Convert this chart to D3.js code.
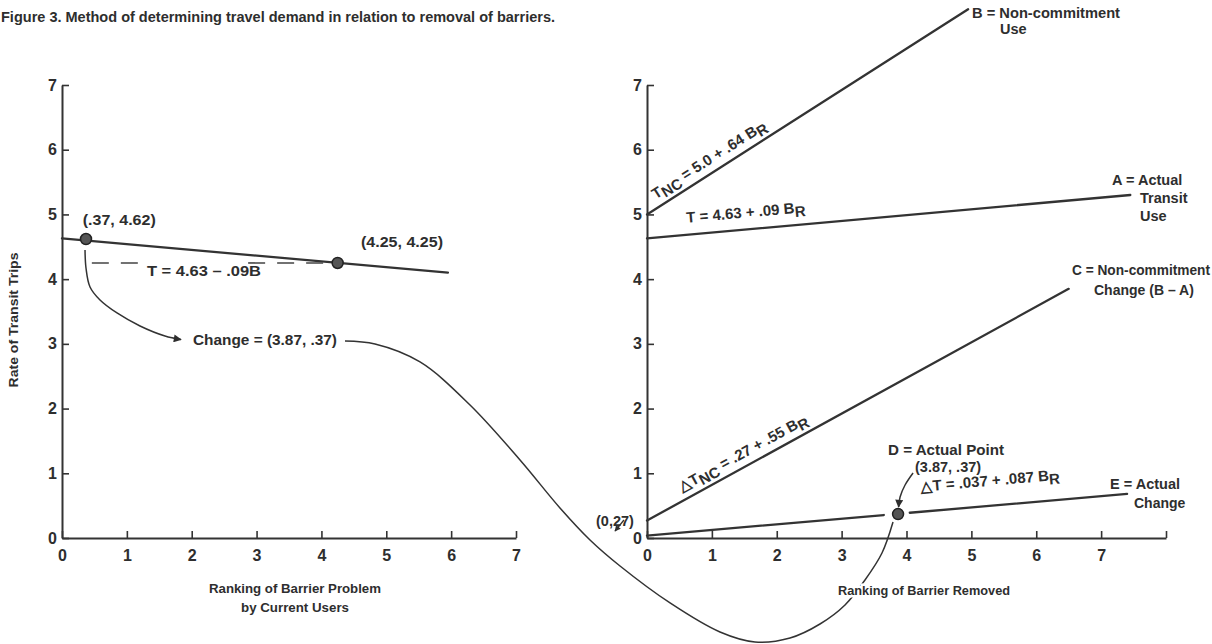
<!DOCTYPE html>
<html><head><meta charset="utf-8">
<script src="https://cdn.jsdelivr.net/npm/d3@7"></script>
<style>
html,body{margin:0;padding:0;background:#fff;}
svg{display:block;font-family:"Liberation Sans",Arial,sans-serif;}
</style></head><body>
<svg id="c" width="1212" height="644"></svg>
<script>
// ---------- texts ----------
const titleText = "Figure 3.  Method of determining travel demand in relation to removal of barriers.";
const yTitle = "Rate of Transit Trips";
const xTitleLeft = ["Ranking of Barrier Problem", "by Current Users"];
const xTitleRight = "Ranking of Barrier Removed";

// ---------- ticks ----------
const xTicksLeft = [0, 1, 2, 3, 4, 5, 6, 7];
const xTicksRight = [0, 1, 2, 3, 4, 5, 6, 7, 8];
const xTickLabelsRight = ["0", "1", "2", "3", "4", "5", "6", "7", ""];
const yTicks = [0, 1, 2, 3, 4, 5, 6, 7];

// ---------- left panel data ----------
const currentX = [0, 5.95];
const currentY = [4.63, 4.10];
const currentPtsX = [0.37, 4.25];
const currentPtsY = [4.62, 4.25];
const currentPtLabels = ["(.37, 4.62)", "(4.25, 4.25)"];
const guideSegX = [[0.46, 1.22], [2.87, 4.2]];
const guideY = 4.25;

// ---------- right panel data ----------
const lineBX = [0, 4.95], lineBY = [5.0, 8.17];
const lineAX = [0, 7.45], lineAY = [4.63, 5.30];
const lineCX = [0, 6.5], lineCY = [0.27, 3.85];
const lineEX = [[0, 3.65], [4.05, 7.4]];
const lineEY = [[0.037, 0.355], [0.39, 0.681]];
const pointD = [3.87, 0.37];

// ---------- connector curves (left-panel units) ----------
const connX = [4.363, 4.826, 5.520, 6.291, 7.062, 7.678, 8.141, 8.604, 9.375, 10.145, 10.685, 11.225, 11.687, 12.073, 12.381, 12.643, 12.813];
const connY = [3.044, 2.998, 2.720, 2.055, 1.205, 0.464, -0.031, -0.433, -1.004, -1.453, -1.607, -1.545, -1.329, -1.035, -0.649, -0.232, 0.247];
const arrowLX = [0.355, 0.370, 0.432, 0.586, 0.848, 1.203, 1.588, 1.835];
const arrowLY = [4.450, 4.172, 3.879, 3.678, 3.477, 3.276, 3.121, 3.067];
// right-panel units
const arrowDX = [4.101, 3.978, 3.901, 3.878];
const arrowDY = [1.004, 0.819, 0.634, 0.479];
const arrowIX = [-0.355, -0.493];
const arrowIY = [0.278, 0.108];

const INK = "#2e2e2e";
const svg = d3.select("#c");

const sxL = d3.scaleLinear().domain([0, 7]).range([62, 516]);
const sxR = d3.scaleLinear().domain([0, 8]).range([647, 1166]);
const sy = d3.scaleLinear().domain([0, 7]).range([538, 85]);

// arrow markers
const defs = svg.append("defs");
defs.append("marker").attr("id", "ah").attr("viewBox", "0 0 10 10")
  .attr("refX", 9).attr("refY", 5).attr("markerWidth", 11).attr("markerHeight", 8)
  .attr("markerUnits", "userSpaceOnUse").attr("orient", "auto")
  .append("path").attr("d", "M0,0 L10,5 L0,10 z").attr("fill", INK);
defs.append("marker").attr("id", "ahs").attr("viewBox", "0 0 10 10")
  .attr("refX", 9).attr("refY", 5).attr("markerWidth", 7).attr("markerHeight", 6)
  .attr("markerUnits", "userSpaceOnUse").attr("orient", "auto")
  .append("path").attr("d", "M0,0 L10,5 L0,10 z").attr("fill", INK);

// generic label helper
function lab(x, y, s, size, len, anchor, halo) {
  const t = svg.append("text").attr("x", x).attr("y", y).attr("dy", "0.35em").attr("font-size", size)
    .attr("font-weight", "bold").attr("fill", INK).attr("text-anchor", anchor || "start").text(s);
  if (len) t.attr("textLength", len).attr("lengthAdjust", "spacingAndGlyphs");
  if (halo) t.attr("stroke", "#fff").attr("stroke-width", 5).attr("paint-order", "stroke");
  return t;
}

// title
lab(1, 17, titleText, 14.5, 554);

function styleAxis(g) {
  g.attr("font-family", null).attr("font-size", null);
  g.select(".domain").attr("stroke", "#333").attr("stroke-width", 2);
  g.selectAll(".tick line").attr("stroke", "#333").attr("stroke-width", 1.6);
  g.selectAll(".tick text").attr("fill", INK).attr("font-size", 16).attr("font-weight", "bold");
}

// axes left
svg.append("g").attr("transform", "translate(0,538)")
  .call(d3.axisBottom(sxL).tickValues(xTicksLeft).tickSize(-7).tickSizeOuter(0).tickPadding(12).tickFormat(d3.format("d")))
  .call(styleAxis);
svg.append("g").attr("transform", "translate(62,0)")
  .call(d3.axisLeft(sy).tickValues(yTicks).tickSize(-7).tickSizeOuter(0).tickPadding(5).tickFormat(d3.format("d")))
  .call(styleAxis);
// axes right
svg.append("g").attr("transform", "translate(0,538)")
  .call(d3.axisBottom(sxR).tickValues(xTicksRight).tickSize(-7).tickSizeOuter(0).tickPadding(12).tickFormat((d, i) => xTickLabelsRight[i]))
  .call(styleAxis);
svg.append("g").attr("transform", "translate(647,0)")
  .call(d3.axisLeft(sy).tickValues(yTicks).tickSize(-7).tickSizeOuter(0).tickPadding(5).tickFormat(d3.format("d")))
  .call(styleAxis);

// axis titles
svg.append("text").attr("transform", "translate(18,320) rotate(-90)").attr("text-anchor", "middle")
  .attr("font-size", 13).attr("font-weight", "bold").attr("fill", INK)
  .attr("textLength", 135).attr("lengthAdjust", "spacingAndGlyphs").text(yTitle);
lab(295, 588, xTitleLeft[0], 13, 172, "middle");
lab(295, 607, xTitleLeft[1], 13, 108, "middle");

// helper for straight lines
function seg(sx, xs, ys, w) {
  svg.append("line").attr("x1", sx(xs[0])).attr("y1", sy(ys[0])).attr("x2", sx(xs[1])).attr("y2", sy(ys[1]))
    .attr("stroke", "#333").attr("stroke-width", w || 2.3).attr("stroke-linecap", "round");
}

// left panel
seg(sxL, currentX, currentY);
guideSegX.forEach(s => svg.append("line").attr("x1", sxL(s[0])).attr("x2", sxL(s[1]))
  .attr("y1", sy(guideY)).attr("y2", sy(guideY)).attr("stroke", "#444").attr("stroke-width", 1.6)
  .attr("stroke-dasharray", "17,12"));
currentPtsX.forEach((x, i) => svg.append("circle").attr("cx", sxL(x)).attr("cy", sy(currentPtsY[i])).attr("r", 5.5)
  .attr("fill", "#555").attr("stroke", "#222").attr("stroke-width", 1.5));
lab(sxL(0.32), sy(4.914), currentPtLabels[0], 15, 73);
lab(sxL(4.61), sy(4.574), currentPtLabels[1], 15, 82);
lab(sxL(1.31), sy(4.126), "T = 4.63 \u2013 .09B", 15, 114);
lab(sxL(2.02), sy(3.06), "Change = (3.87, .37)", 15, 144);

// curves
const lineGen = (sx) => d3.line().x(d => sx(d[0])).y(d => sy(d[1])).curve(d3.curveCatmullRom.alpha(0.5));
svg.append("path").attr("d", lineGen(sxL)(connX.map((x, i) => [x, connY[i]])))
  .attr("fill", "none").attr("stroke", "#333").attr("stroke-width", 1.5);
svg.append("path").attr("d", lineGen(sxL)(arrowLX.map((x, i) => [x, arrowLY[i]])))
  .attr("fill", "none").attr("stroke", "#333").attr("stroke-width", 1.5).attr("marker-end", "url(#ah)");

// right x title (drawn over the curve with a white halo)
lab(924, 590, xTitleRight, 13, 172, "middle", true);

// right panel lines
seg(sxR, lineBX, lineBY);
seg(sxR, lineAX, lineAY);
seg(sxR, lineCX, lineCY);
lineEX.forEach((xs, i) => seg(sxR, xs, lineEY[i]));
svg.append("circle").attr("cx", sxR(pointD[0])).attr("cy", sy(pointD[1])).attr("r", 5.5)
  .attr("fill", "#555").attr("stroke", "#222").attr("stroke-width", 1.5);
svg.append("path").attr("d", lineGen(sxR)(arrowDX.map((x, i) => [x, arrowDY[i]])))
  .attr("fill", "none").attr("stroke", "#333").attr("stroke-width", 1.5).attr("marker-end", "url(#ah)");
svg.append("path").attr("d", lineGen(sxR)(arrowIX.map((x, i) => [x, arrowIY[i]])))
  .attr("fill", "none").attr("stroke", "#333").attr("stroke-width", 1.3).attr("marker-end", "url(#ahs)");

// rotated equation labels
function eqLabel(xs, ys, t0, off, parts, size) {
  const x1 = sxR(xs[0]), y1 = sy(ys[0]), x2 = sxR(xs[1]), y2 = sy(ys[1]);
  const ang = Math.atan2(y2 - y1, x2 - x1) * 180 / Math.PI;
  const yv = ys[0] + (ys[1] - ys[0]) * (t0 - xs[0]) / (xs[1] - xs[0]);
  const t = svg.append("text").attr("transform", `translate(${sxR(t0)},${sy(yv)}) rotate(${ang})`)
    .attr("y", -off).attr("font-size", size || 15).attr("fill", INK).attr("font-weight", "bold");
  let sub = false;
  parts.forEach(p => {
    const isSub = p[1] === "sub";
    const ts = t.append("tspan").text(p[0]);
    if (isSub && !sub) ts.attr("dy", 4);
    if (!isSub && sub) ts.attr("dy", -4);
    sub = isSub;
  });
}
eqLabel(lineBX, lineBY, 0.2, 8, [["T", ""], ["NC", "sub"], [" = 5.0 + .64 B", ""], ["R", "sub"]]);
eqLabel(lineAX, lineAY, 0.63, 12, [["T = 4.63 + .09 B", ""], ["R", "sub"]]);
eqLabel(lineCX, lineCY, 0.6, 8, [["\u25B3T", ""], ["NC", "sub"], [" = .27 + .55 B", ""], ["R", "sub"]]);
eqLabel([0, 7.4], [0.037, 0.681], 4.25, 20, [["\u25B3T = .037 + .087 B", ""], ["R", "sub"]]);

// right labels
lab(972, 13, "B = Non-commitment", 14, 148);
lab(1000, 29, "Use", 14.5);
lab(1112, 180, "A = Actual", 14.5);
lab(1140, 198, "Transit", 14.5);
lab(1140, 216, "Use", 14.5);
lab(1072, 270, "C = Non-commitment", 14, 138);
lab(1094, 290, "Change (B \u2013 A)", 14);
lab(946, 450, "D = Actual Point", 14, 116, "middle");
lab(915, 467, "(3.87, .37)", 14.5);
lab(1110, 484, "E = Actual", 14.5);
lab(1134, 503, "Change", 14);
lab(596, 521, "(0,27)", 14.5);
</script>
</body></html>
